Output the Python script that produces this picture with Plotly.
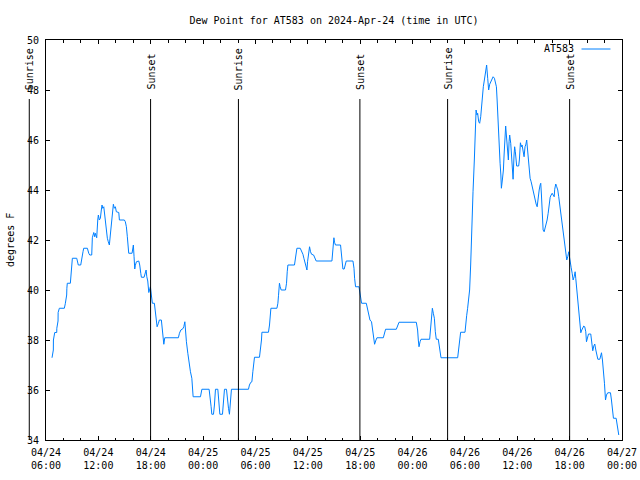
import pandas as pd
import plotly.graph_objects as go

TITLE = "Dew Point for AT583 on 2024-Apr-24 (time in UTC)"
SERIES_NAME = "AT583"
Y_LABEL = "degrees F"
START = "2024-04-24 06:00"
END = "2024-04-27 00:00"

# hours after 2024-04-24 06:00 UTC
hours = [
    0.69, 0.84, 0.85, 1.00, 1.23, 1.24, 1.38, 1.39, 1.53, 2.10, 2.21, 2.37, 2.39, 2.44, 2.79, 2.83,
    2.95, 3.02, 3.52, 3.70, 3.98, 4.09, 4.24, 4.32, 4.74, 4.90, 5.01, 5.24, 5.31, 5.47, 5.58, 5.65,
    5.81, 5.93, 6.00, 6.11, 6.23, 6.34, 6.42, 6.50, 6.62, 6.73, 6.80, 6.91, 7.03, 7.14, 7.26, 7.37,
    7.49, 7.60, 7.72, 7.83, 7.95, 8.06, 8.34, 8.41, 8.98, 9.09, 9.21, 9.32, 9.40, 9.48, 9.86, 9.94,
    10.01, 10.09, 10.17, 10.24, 10.36, 10.63, 10.74, 10.86, 10.93, 11.24, 11.35, 11.47, 11.55, 11.66,
    11.78, 11.85, 11.96, 12.07, 12.19, 12.42, 12.50, 12.61, 12.73, 12.88, 12.99, 13.22, 13.30, 13.42,
    13.50, 13.61, 15.17, 15.29, 15.45, 15.68, 15.79, 15.91, 15.97, 16.09, 16.25, 16.40, 16.55, 16.71,
    16.86, 17.70, 17.86,
    18.69, 18.81, 18.92, 19.00, 19.19, 19.30, 19.42, 19.69, 19.80, 19.92, 20.22, 20.33, 20.45, 20.68,
    20.79, 20.91, 21.02, 21.14, 21.25, 23.20, 23.31, 23.47, 23.59, 23.70, 23.82, 23.89, 24.46, 24.58,
    24.69, 24.74, 25.49, 25.61, 25.69, 25.77, 26.46, 26.57, 26.64, 26.75, 26.83, 26.95, 27.44, 27.56,
    27.64, 27.72, 28.47, 28.64, 28.75, 29.13, 29.32, 29.44, 29.55, 29.67, 29.78, 29.90, 29.97, 30.08,
    30.20, 30.31, 30.43, 30.66, 30.81, 30.96, 32.76, 32.83, 32.91, 32.99, 33.06, 33.17, 33.75, 33.86,
    33.94, 34.02, 34.17, 34.29, 34.40, 35.17, 35.29, 35.36, 35.47, 35.86, 35.97, 36.04, 36.16,
    36.70, 36.84, 37.00, 37.12, 37.30, 37.42, 37.53, 37.65, 37.81, 37.92, 38.65, 38.80, 38.91, 40.14,
    40.29, 40.45, 42.43, 42.58, 42.66, 42.74, 42.86, 42.97, 43.96, 44.04, 44.15, 44.27, 44.38, 44.50,
    44.61, 44.72, 44.95, 45.07, 45.18, 45.26, 47.17, 47.28, 47.40, 47.51, 48.01, 48.13, 48.20, 48.31,
    48.43, 48.54, 48.66, 48.77, 48.93, 49.08, 49.20, 49.28, 49.39, 49.46, 49.58, 49.69, 49.81, 49.92,
    50.00, 50.11, 50.23, 50.38, 50.49, 50.61, 50.72, 50.84, 50.95, 51.11, 51.23, 51.38, 51.49, 51.61,
    51.69, 51.80, 51.92, 52.03,
    52.12, 52.18, 52.29, 52.41, 52.49, 52.56, 52.67, 52.75, 52.87, 52.98, 53.06, 53.13, 53.25, 53.36,
    53.44, 53.52, 53.63, 53.70, 53.78, 53.86, 53.93, 54.16, 54.24, 54.36, 54.47, 54.55, 54.66, 54.78,
    54.89, 54.97, 55.08, 55.16, 55.28, 55.36, 55.47, 55.59, 55.70, 55.82, 55.93, 56.05, 56.16, 56.28,
    56.39, 56.51, 56.62, 56.69, 56.77, 56.85, 56.96, 57.08, 57.19, 57.31, 57.42, 57.54, 57.65, 57.77,
    57.88, 58.00, 58.11, 58.23, 58.29, 58.41, 58.52, 58.64, 58.75, 58.87, 58.98, 59.10, 59.21, 59.33,
    59.44, 59.55, 59.67, 59.78, 59.90, 59.98, 60.06, 60.17, 60.29, 60.40, 60.52, 60.63, 60.70, 60.82,
    60.93, 61.05, 61.16, 61.28, 61.39, 61.51, 61.62, 61.73, 61.85, 61.93, 62.04, 62.16, 62.42, 62.54,
    62.65, 62.77, 62.88, 63.00, 63.11, 63.23, 63.46, 63.53, 63.65, 63.76, 63.88, 63.99, 64.11, 64.22,
    64.37, 64.68, 64.79, 64.91, 65.02, 65.33, 65.44, 65.60, 65.63,
]

dew_point = [
    37.29, 37.6, 38.0, 38.3, 38.3, 38.47, 38.76, 39.1, 39.27, 39.27, 39.45, 39.8, 40.07, 40.27, 40.27, 40.5,
    41.0, 41.27, 41.27, 41.0, 41.0, 41.3, 41.53, 41.67, 41.67, 41.47, 41.4, 41.4, 42.09, 42.3, 42.13, 42.27,
    42.09, 42.8, 43.0, 42.8, 42.87, 43.2, 43.4, 43.27, 43.33, 43.0, 42.73, 42.33, 42.07, 41.93, 41.8, 42.2,
    42.73, 43.2, 43.43, 43.27, 43.33, 43.13, 43.1, 42.8, 42.8, 42.73, 42.53, 42.13, 41.73, 41.47, 41.47, 41.67,
    41.8, 41.33, 40.84, 40.99, 41.13, 41.16, 41.0, 40.67, 40.51, 40.51, 40.67, 40.8, 40.53, 40.36,
    39.9, 40.07, 40.13, 39.8, 39.47, 39.47, 39.27, 39.03, 38.53, 38.67, 38.8, 38.8, 38.53, 38.07,
    37.83, 38.09, 38.09, 38.27, 38.4, 38.45, 38.53, 38.73, 38.4, 37.93, 37.47, 36.97, 36.73, 36.47,
    35.73, 35.73, 36.03,
    36.03, 35.73, 35.33, 35.03, 35.03, 35.4, 36.03, 36.03, 35.53, 35.03, 35.03, 35.53, 36.03, 36.03,
    35.53, 35.27, 35.03, 35.53, 36.03, 36.03, 36.2, 36.31, 36.33, 36.73, 37.13, 37.31, 37.31, 37.6,
    38.0, 38.31, 38.31, 38.6, 39.03, 39.27, 39.27, 39.47, 39.77, 40.27, 40.13, 40.0, 40.0, 40.27,
    40.73, 41.0, 41.0, 41.4, 41.67, 41.67, 41.53, 41.43, 41.27, 41.13, 40.93, 40.8, 41.13, 41.53,
    41.73, 41.53, 41.43, 41.4, 41.27, 41.16, 41.16, 41.47, 41.87, 42.09, 41.91, 41.8, 41.8, 41.47,
    41.13, 40.84, 40.84, 41.03, 41.16, 41.16, 40.87, 40.47, 40.13, 40.13, 39.93, 39.69, 39.47,
    39.47, 39.2, 39.0, 38.8, 38.73, 38.47, 38.13, 37.83, 38.0, 38.09, 38.09, 38.27, 38.43, 38.43,
    38.57, 38.71, 38.71, 38.4, 38.0, 37.73, 37.93, 38.03, 38.03, 38.33, 39.0, 39.27, 39.07, 38.87,
    38.33, 38.03, 38.03, 37.8, 37.47, 37.29, 37.29, 37.67, 38.07, 38.31, 38.31, 38.6, 38.97, 39.27,
    39.6, 40.0, 41.0, 42.47, 43.93, 45.2, 46.53, 47.2, 47.0, 47.07, 46.73, 46.67, 46.93, 47.47,
    47.8, 48.13, 48.4, 48.73, 49.0, 48.47, 48.0, 48.23, 48.33, 48.47, 48.53, 48.47, 48.33, 48.13,
    47.6, 46.53, 45.73, 45.07,
    44.6, 44.07, 44.4, 44.8, 45.4, 46.16, 46.56, 46.2, 45.47, 45.2, 45.93, 46.2, 45.87, 45.33,
    44.8, 44.43, 45.4, 45.73, 45.53, 45.2, 44.96, 44.96, 45.2, 45.89, 45.73, 45.8, 45.53, 45.33,
    45.73, 45.8, 46.0, 45.6, 45.07, 44.67, 44.47, 44.33, 44.16, 43.93, 43.71, 43.53, 43.44, 43.33,
    43.71, 44.0, 44.2, 44.27, 43.8, 42.87, 42.4, 42.33, 42.47, 42.56, 42.8, 43.07, 43.53, 43.71,
    43.8, 43.87, 43.8, 43.73, 44.03, 44.24, 44.13, 44.0, 43.73, 43.4, 43.07, 42.73, 42.47, 42.2,
    41.89, 41.6, 41.2, 41.33, 41.53, 41.33, 41.09, 40.91, 40.67, 40.4, 40.53, 40.73, 40.47, 40.0,
    39.47, 38.87, 38.47, 38.29, 38.4, 38.47, 38.56, 38.53, 38.33, 37.93, 38.13, 38.24, 38.24, 37.93,
    37.57, 37.76, 37.84, 37.6, 37.36, 37.23, 37.23, 37.4, 37.49, 37.2, 36.8, 36.27, 35.6, 35.8,
    35.89, 35.89, 35.6, 35.13, 34.87, 34.87, 34.67, 34.33, 34.2,
]

sunrise = ["2024-04-24 04:05", "2024-04-25 04:03", "2024-04-26 04:01"]
sunset = ["2024-04-24 17:59", "2024-04-25 17:58", "2024-04-26 18:00"]

tick_times = pd.date_range(START, END, freq="6h")
tick_text = [t.strftime("%m/%d<br>%H:%M") for t in tick_times]
y_ticks = list(range(34, 51, 2))

FONT = "DejaVu Sans Mono, Liberation Mono, monospace"
FS = 10
LINE_COLOR = "rgb(0,128,255)"

t0 = pd.Timestamp(START)
t1 = pd.Timestamp(END)
times = [t0 + pd.Timedelta(hours=h) for h in hours]

FIG_W, FIG_H = 640, 480

fig = go.Figure()
fig.add_trace(go.Scatter(x=times, y=dew_point, mode="lines", name=SERIES_NAME,
                         line=dict(color=LINE_COLOR, width=1), showlegend=False))

def xpaper(ts):
    return (pd.Timestamp(ts) - t0) / (t1 - t0)

shapes = []
annotations = []
for label, events in (("Sunrise", sunrise), ("Sunset", sunset)):
    for ev in events:
        xp = xpaper(ev)
        shapes.append(dict(type="line", xref="paper", yref="paper", x0=xp, x1=xp,
                           y0=0, y1=0.8525, line=dict(color="black", width=1)))
        annotations.append(dict(text=label, xref="paper", yref="paper", x=xp, y=0.87,
                                xanchor="center", yanchor="bottom", textangle=-90,
                                showarrow=False, font=dict(family=FONT, size=FS, color="black")))

# legend (gnuplot style: text then sample line)
shapes.append(dict(type="line", xref="paper", yref="paper", x0=0.9297, x1=0.98,
                   y0=0.9775, y1=0.9775, line=dict(color=LINE_COLOR, width=1)))
annotations.append(dict(text=SERIES_NAME, xref="paper", yref="paper", x=0.92, y=0.9775,
                        xanchor="right", yanchor="middle", showarrow=False,
                        font=dict(family=FONT, size=FS, color="black")))
# y axis label
annotations.append(dict(text=Y_LABEL, xref="paper", yref="paper", x=-0.0626, y=0.5,
                        xanchor="center", yanchor="middle", textangle=-90, showarrow=False,
                        font=dict(family=FONT, size=FS, color="black")))

fig.update_layout(
    width=FIG_W, height=FIG_H,
    margin=dict(l=46, r=18, t=40, b=40, autoexpand=False),
    paper_bgcolor="white", plot_bgcolor="white",
    font=dict(family=FONT, size=FS, color="black"),
    title=dict(text=TITLE, x=0.5, xref="paper", y=1 - 20 / FIG_H, yref="container",
               xanchor="center", yanchor="middle", font=dict(family=FONT, size=FS, color="black")),
    shapes=shapes, annotations=annotations,
)
fig.update_xaxes(type="date", range=[t0, t1], tickmode="array", tickvals=tick_times, ticktext=tick_text,
                 ticks="inside", ticklen=4, tickcolor="black", showline=True, linecolor="black",
                 linewidth=1, mirror="ticks", showgrid=False, zeroline=False, automargin=False,
                 ticklabelstandoff=3,
                 minor=dict(dtick=2 * 3600 * 1000, ticks="inside", ticklen=2.5, tickcolor="black",
                            showgrid=False),
                 tickfont=dict(family=FONT, size=FS, color="black"))
fig.update_yaxes(range=[34, 50], tickmode="array", tickvals=y_ticks, ticks="inside", ticklen=4,
                 tickcolor="black", showline=True, linecolor="black", linewidth=1, mirror="ticks",
                 showgrid=False, zeroline=False, automargin=False, ticklabelstandoff=4,
                 tickfont=dict(family=FONT, size=FS, color="black"))

fig.write_html("out.html", config={"displayModeBar": False},
               post_script="document.body.style.margin='0';document.body.style.overflow='hidden';")
